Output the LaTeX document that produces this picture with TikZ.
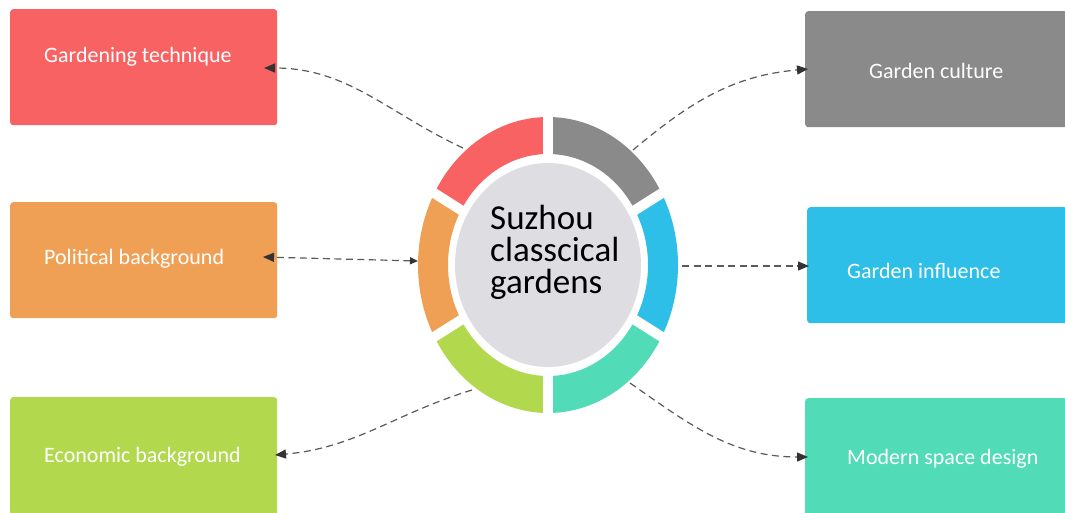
\documentclass[tikz,border=0pt]{standalone}
\usepackage{fontspec}
\setmainfont{Carlito}
\usetikzlibrary{arrows.meta,shapes.geometric}
\definecolor{cred}{HTML}{F96262}
\definecolor{corange}{HTML}{EFA054}
\definecolor{cgreen}{HTML}{B2D94E}
\definecolor{cgray}{HTML}{8A8A8A}
\definecolor{cblue}{HTML}{2EBFE8}
\definecolor{cteal}{HTML}{52DBB7}
\definecolor{ccenter}{HTML}{DEDDE2}
\definecolor{cline}{HTML}{5A5A5A}
\definecolor{ctip}{HTML}{333333}
\tikzset{
  box/.style={draw=none, fill=#1, rounded corners=3pt, minimum width=267pt, minimum height=116pt, anchor=north west, inner sep=0pt},
  lbl/.style={text=white, font=\fontsize{22}{26}\selectfont, anchor=west, inner sep=0pt},
  conn/.style={draw=cline, dash pattern=on 7pt off 4.5pt, line width=1.2pt, -{Triangle[length=11pt,width=9pt,color=ctip,fill=ctip]}},
  seg/.style={fill=#1, draw=none}
}
\begin{document}
\begin{tikzpicture}[x=1pt,y=-1pt]
\useasboundingbox (0,0) rectangle (1065,512);
\fill[white] (0,0) rectangle (1065,512);

% boxes
\node[box=cred] (b1) at (10,9) {};
\node[box=corange] (b2) at (10,202) {};
\node[box=cgreen, minimum height=118pt] (b3) at (10,397) {};
\node[box=cgray, minimum width=262pt] (b4) at (805,11) {};
\node[box=cblue, minimum width=260pt] (b5) at (807,207) {};
\node[box=cteal, minimum width=262pt, minimum height=118pt] (b6) at (805,398) {};

\node[lbl] (t1) at (44,57) {Gardening technique};
\node[lbl] (t2) at (44,259) {Political background};
\node[lbl] (t3) at (44,457) {Economic background};
\node[lbl] (t4) at (869,71) {Garden culture};
\node[lbl] (t5) at (847,271) {Garden influence};
\node[lbl] (t6) at (847,459) {Modern space design};

% ring
\begin{scope}[shift={(548,265)}, y=1pt]
  \foreach \a/\b/\c in {150/90/cred, 90/30/cgray, 30/-30/cblue, -30/-90/cteal, -90/-150/cgreen, -150/-210/corange}{
    \fill[seg=\c] (\a:130 and 148) arc[start angle=\a, end angle=\b, x radius=130, y radius=148]
      -- (\b:100 and 111) arc[start angle=\b, end angle=\a, x radius=100, y radius=111] -- cycle;
  }
  \foreach \a in {90,30,-30,-90,-150,150}{
    \draw[white, line width=10pt] (0,0) -- (\a:160 and 175);
  }
  \node[fill=ccenter, ellipse, minimum width=186pt, minimum height=204pt, inner sep=0pt] (c) at (0,0) {};
\end{scope}
\node[anchor=west, align=left, font=\fontsize{35}{32}\selectfont, text=black, inner sep=0pt] (ct) at (490,252) {Suzhou\\classcical\\gardens};

% connector endpoints
\coordinate (r1) at (463,148);
\coordinate (r2) at (418,261);
\coordinate (r3) at (472,390);
\coordinate (r4) at (633,150);
\coordinate (r5) at (682,266);
\coordinate (r6) at (630,383);
\coordinate (e1) at (264,68);
\coordinate (e2) at (263,257);
\coordinate (e3) at (275,455);
\coordinate (e4) at (808,69);
\coordinate (e5) at (809,266);
\coordinate (e6) at (808,457);

\draw[conn] (r1) to[out=155, in=0] (e1);
\draw[conn, {Triangle[length=8pt,width=7pt,color=ctip,fill=ctip]}-{Triangle[length=11pt,width=9pt,color=ctip,fill=ctip]}] (r2) -- (e2);
\draw[conn] (r3) to[out=197, in=5] (e3);
\draw[conn] (r4) to[out=40, in=185] (e4);
\draw[conn] (r5) -- (e5);
\draw[conn] (r6) to[out=-35, in=180] (e6);
\end{tikzpicture}
\end{document}
